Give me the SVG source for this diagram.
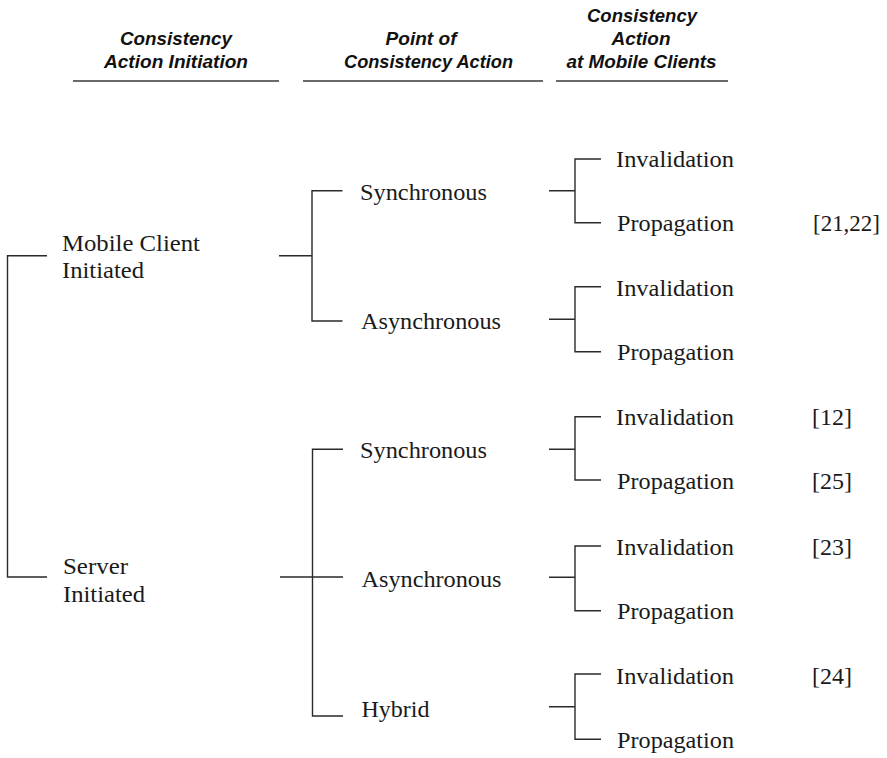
<svg xmlns="http://www.w3.org/2000/svg" width="887" height="758" viewBox="0 0 887 758">
<style>
.h{font-family:"Liberation Sans",Arial,sans-serif;font-weight:bold;font-style:italic;font-size:18px;fill:#111;text-anchor:middle}
.t{font-family:"Liberation Serif","Times New Roman",serif;font-size:23px;fill:#1a1a1a}
.hl{stroke:#6a6a6a;stroke-width:2;fill:none}
.c{stroke:#2a2a2a;stroke-width:1.4;fill:none}
</style>
<rect width="887" height="758" fill="#fff"/>
<g id="headers">
<text class="h" x="176" y="45" textLength="112" lengthAdjust="spacingAndGlyphs">Consistency</text>
<text class="h" x="176" y="68" textLength="144" lengthAdjust="spacingAndGlyphs">Action Initiation</text>
<line class="hl" x1="73" y1="81" x2="279" y2="81"/>
<text class="h" x="421" y="45" textLength="71" lengthAdjust="spacingAndGlyphs">Point of</text>
<text class="h" x="428.5" y="68" textLength="169" lengthAdjust="spacingAndGlyphs">Consistency Action</text>
<line class="hl" x1="303" y1="81" x2="543" y2="81"/>
<text class="h" x="642" y="22" textLength="110" lengthAdjust="spacingAndGlyphs">Consistency</text>
<text class="h" x="641" y="45" textLength="59" lengthAdjust="spacingAndGlyphs">Action</text>
<text class="h" x="641.5" y="68" textLength="150" lengthAdjust="spacingAndGlyphs">at Mobile Clients</text>
<line class="hl" x1="556" y1="81" x2="728" y2="81"/>
</g>
<g id="connectors">
<path class="c" d="M47,255.7H7.5V577H47"/>
<path class="c" d="M279,255.7H312M342.5,190.7H312V321H342.5"/>
<path class="c" d="M343,449.3H312.5V716H343M280,577H343"/>
<path class="c" d="M549,190.7H575M601,159H575V222.7H601"/>
<path class="c" d="M549,319.3H575M601,286.7H575V351.7H601"/>
<path class="c" d="M549,449.3H575M601,416.7H575V480H601"/>
<path class="c" d="M549,577.3H575M601,546H575V610.7H601"/>
<path class="c" d="M549,706.7H575M601,674H575V739.3H601"/>
</g>
<g id="n-mobile"><text class="t" x="62" y="251"><tspan textLength="138" lengthAdjust="spacingAndGlyphs">Mobile Client</tspan></text><text class="t" x="62" y="278" textLength="82" lengthAdjust="spacingAndGlyphs">Initiated</text></g>
<g id="n-server"><text class="t" x="63" y="573.5" textLength="65" lengthAdjust="spacingAndGlyphs">Server</text><text class="t" x="63" y="601.5" textLength="82" lengthAdjust="spacingAndGlyphs">Initiated</text></g>
<g id="n-mc-sync"><text class="t" x="360" y="200" textLength="127" lengthAdjust="spacingAndGlyphs">Synchronous</text></g>
<g id="n-mc-async"><text class="t" x="361" y="329" textLength="140" lengthAdjust="spacingAndGlyphs">Asynchronous</text></g>
<g id="n-sv-sync"><text class="t" x="360" y="458.3" textLength="127" lengthAdjust="spacingAndGlyphs">Synchronous</text></g>
<g id="n-sv-async"><text class="t" x="361.5" y="587" textLength="140" lengthAdjust="spacingAndGlyphs">Asynchronous</text></g>
<g id="n-sv-hybrid"><text class="t" x="361.5" y="717" textLength="68" lengthAdjust="spacingAndGlyphs">Hybrid</text></g>
<g id="n-l1"><text class="t" x="616" y="167" textLength="118" lengthAdjust="spacingAndGlyphs">Invalidation</text></g>
<g id="n-l2"><text class="t" x="617" y="231" textLength="117" lengthAdjust="spacingAndGlyphs">Propagation</text><text class="t" x="813" y="231" textLength="67" lengthAdjust="spacingAndGlyphs">[21,22]</text></g>
<g id="n-l3"><text class="t" x="616" y="295.5" textLength="118" lengthAdjust="spacingAndGlyphs">Invalidation</text></g>
<g id="n-l4"><text class="t" x="617" y="360" textLength="117" lengthAdjust="spacingAndGlyphs">Propagation</text></g>
<g id="n-l5"><text class="t" x="616" y="425" textLength="118" lengthAdjust="spacingAndGlyphs">Invalidation</text><text class="t" x="812" y="425" textLength="40" lengthAdjust="spacingAndGlyphs">[12]</text></g>
<g id="n-l6"><text class="t" x="617" y="489" textLength="117" lengthAdjust="spacingAndGlyphs">Propagation</text><text class="t" x="812" y="489" textLength="40" lengthAdjust="spacingAndGlyphs">[25]</text></g>
<g id="n-l7"><text class="t" x="616" y="555" textLength="118" lengthAdjust="spacingAndGlyphs">Invalidation</text><text class="t" x="812" y="555" textLength="40" lengthAdjust="spacingAndGlyphs">[23]</text></g>
<g id="n-l8"><text class="t" x="617" y="619" textLength="117" lengthAdjust="spacingAndGlyphs">Propagation</text></g>
<g id="n-l9"><text class="t" x="616" y="683.5" textLength="118" lengthAdjust="spacingAndGlyphs">Invalidation</text><text class="t" x="812" y="683.5" textLength="40" lengthAdjust="spacingAndGlyphs">[24]</text></g>
<g id="n-l10"><text class="t" x="617" y="748" textLength="117" lengthAdjust="spacingAndGlyphs">Propagation</text></g>
</svg>
